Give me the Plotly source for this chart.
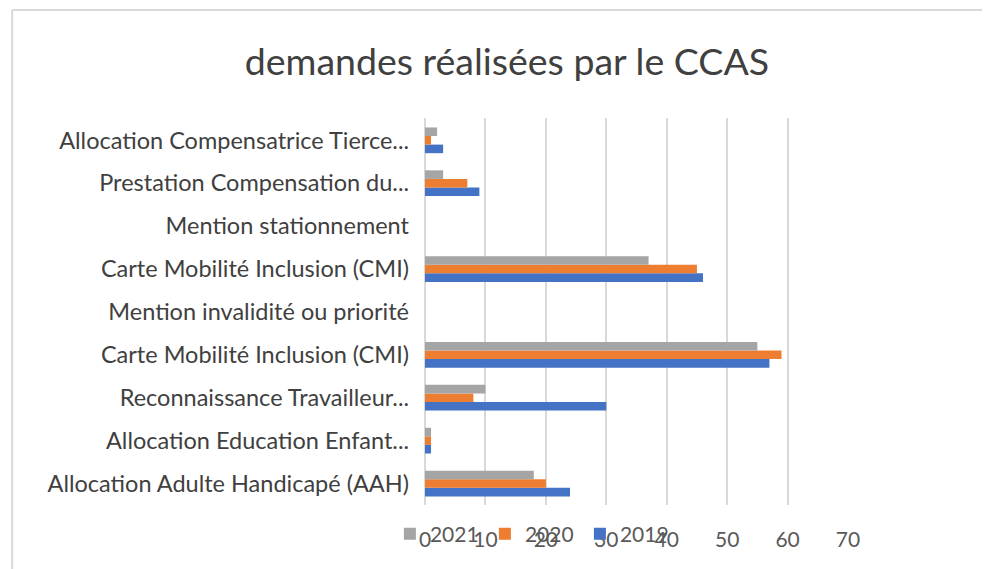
import plotly.graph_objects as go

categories = [
    "Allocation Adulte Handicapé (AAH)",
    "Allocation Education Enfant...",
    "Reconnaissance Travailleur...",
    "Carte Mobilité Inclusion (CMI)",
    "Mention invalidité ou priorité",
    "Carte Mobilité Inclusion (CMI)",
    "Mention stationnement",
    "Prestation Compensation du...",
    "Allocation Compensatrice Tierce...",
]
values_2019 = [24, 1, 30, 57, 0, 46, 0, 9, 3]
values_2020 = [20, 1, 8, 59, 0, 45, 0, 7, 1]
values_2021 = [18, 1, 10, 55, 0, 37, 0, 3, 2]
x_ticks = [0, 10, 20, 30, 40, 50, 60, 70]

positions = list(range(len(categories)))

fig = go.Figure()
for name, vals, color in [
    ("2019", values_2019, "#4472C4"),
    ("2020", values_2020, "#ED7D31"),
    ("2021", values_2021, "#A5A5A5"),
]:
    fig.add_trace(go.Bar(y=positions, x=vals, name=name, orientation="h",
                         marker=dict(color=color, line=dict(width=0))))

fig.update_layout(
    width=982, height=561,
    paper_bgcolor="white", plot_bgcolor="white",
    margin=dict(l=417, r=142, t=110, b=64, autoexpand=False),
    barmode="group", bargap=0.4, bargroupgap=0,
    font=dict(family="Lato, Noto Sans, sans-serif", color="#404040", size=22),
    title=dict(text="demandes réalisées par le CCAS", x=0.5081, xref="container",
               xanchor="center", y=0.9037, yref="container", yanchor="middle",
               font=dict(size=37.5, color="#404040")),
    showlegend=True,
    legend=dict(orientation="h", traceorder="reversed", x=-0.083, xanchor="left",
                y=-0.075, yanchor="middle", font=dict(size=21, color="#595959"),
                bgcolor="rgba(0,0,0,0)", entrywidth=50, entrywidthmode="pixels",
                itemwidth=30),
    xaxis=dict(range=[0, 70], tickvals=x_ticks, showgrid=True, gridcolor="#D9D9D9",
               gridwidth=2, zeroline=True, zerolinecolor="#D9D9D9", zerolinewidth=2,
               tickfont=dict(size=21, color="#595959"), ticks="", showline=False,
               ticklabelstandoff=20),
    yaxis=dict(tickvals=positions, ticktext=categories, showgrid=False,
               range=[-0.5, len(categories) - 0.48],
               tickfont=dict(size=23.5, color="#404040"), ticks="",
               ticklabelstandoff=15),
    shapes=[
        dict(type="line", xref="paper", yref="paper", x0=-0.976, x1=1.33,
             y0=1.279, y1=1.279, line=dict(color="#D9D9D9", width=2), layer="below"),
        dict(type="line", xref="paper", yref="paper", x0=-0.976, x1=-0.976,
             y0=-2.0, y1=1.279, line=dict(color="#D9D9D9", width=2), layer="below"),
    ],
)

fig.write_html("out.html", post_script="document.body.style.overflow='hidden';")
